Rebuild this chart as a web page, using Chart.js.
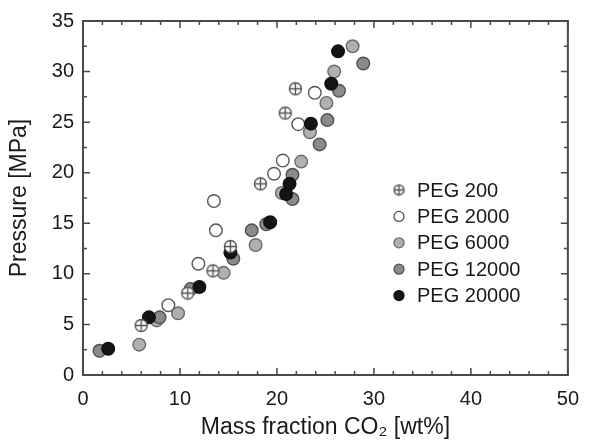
<!DOCTYPE html>
<html>
<head>
<meta charset="utf-8">
<script src="https://cdn.jsdelivr.net/npm/chart.js@4.4.1/dist/chart.umd.min.js"></script>
<style>
  html, body { margin: 0; padding: 0; background: #fff; }
  #wrap { width: 591px; height: 441px; }
</style>
</head>
<body>
<div id="wrap"><canvas id="chart"></canvas></div>
<script>
// values
var seriesNames = ['PEG 200', 'PEG 2000', 'PEG 6000', 'PEG 12000', 'PEG 20000'];

var peg200X = [6.0, 10.8, 13.4, 15.2, 18.3, 20.85, 21.9];
var peg200Y = [4.9, 8.1, 10.3, 12.7, 18.9, 25.9, 28.3];

var peg2000X = [8.8, 11.9, 13.7, 13.5, 19.7, 20.6, 22.2, 23.9];
var peg2000Y = [6.9, 11.0, 14.3, 17.2, 19.9, 21.2, 24.8, 27.9];

var peg6000X = [5.8, 7.6, 9.8, 14.5, 17.8, 20.5, 22.5, 23.4, 25.1, 25.9, 27.8];
var peg6000Y = [3.0, 5.4, 6.1, 10.1, 12.85, 18.0, 21.1, 24.0, 26.9, 30.0, 32.5];

var peg12000X = [1.7, 7.9, 11.1, 15.5, 17.4, 18.9, 21.6, 21.6, 24.4, 25.2, 26.4, 28.9];
var peg12000Y = [2.4, 5.7, 8.5, 11.5, 14.3, 14.9, 17.4, 19.8, 22.8, 25.2, 28.1, 30.8];

var peg20000X = [2.6, 6.8, 12.0, 15.2, 19.3, 20.95, 21.3, 23.5, 25.6, 26.3];
var peg20000Y = [2.6, 5.7, 8.7, 12.1, 15.1, 17.9, 18.9, 24.85, 28.8, 32.0];

var xTicks = [0, 10, 20, 30, 40, 50];
var yTicks = [0, 5, 10, 15, 20, 25, 30, 35];

function pairs(xs, ys) {
  return xs.map(function(x, i) { return { x: x, y: ys[i] }; });
}

// circle with a cross inside, for PEG 200
function crossCircle(r) {
  var s = Math.ceil(r * 2 + 3);
  var c = document.createElement('canvas');
  c.width = s; c.height = s;
  var g = c.getContext('2d');
  var m = s / 2;
  g.fillStyle = '#fff';
  g.strokeStyle = '#555';
  g.lineWidth = 1.4;
  g.beginPath(); g.arc(m, m, r, 0, Math.PI * 2); g.fill(); g.stroke();
  g.beginPath();
  g.moveTo(m - r, m); g.lineTo(m + r, m);
  g.moveTo(m, m - r); g.lineTo(m, m + r);
  g.stroke();
  return c;
}
var crossBig = crossCircle(6);
var crossSmall = crossCircle(5);

var fills = ['#fff', '#fff', '#b0b0b0', '#8a8a8a', '#141414'];
var borders = ['#555', '#555', '#6a6a6a', '#505050', '#111'];

var framePlugin = {
  id: 'frame',
  beforeDatasetsDraw: function(chart) {
    var ctx = chart.ctx, a = chart.chartArea;
    var xs = chart.scales.x, ys = chart.scales.y;
    ctx.save();
    ctx.strokeStyle = '#4a4a4a';
    ctx.lineWidth = 1.5;
    var v, p, len;
    for (v = 0; v <= 50; v += 2) {
      p = xs.getPixelForValue(v);
      len = v % 10 === 0 ? 7 : 4;
      ctx.beginPath();
      ctx.moveTo(p, a.bottom); ctx.lineTo(p, a.bottom - len);
      ctx.moveTo(p, a.top); ctx.lineTo(p, a.top + len);
      ctx.stroke();
    }
    for (v = 0; v <= 35; v += 2.5) {
      p = ys.getPixelForValue(v);
      len = v % 5 === 0 ? 7 : 4;
      ctx.beginPath();
      ctx.moveTo(a.left, p); ctx.lineTo(a.left + len, p);
      ctx.moveTo(a.right, p); ctx.lineTo(a.right - len, p);
      ctx.stroke();
    }
    ctx.lineWidth = 2;
    ctx.strokeRect(a.left, a.top, a.right - a.left, a.bottom - a.top);
    ctx.restore();
  }
};

var fontFam = '"Liberation Sans", Arial, sans-serif';

var legendPlugin = {
  id: 'boxLegend',
  afterDraw: function(chart) {
    var ctx = chart.ctx;
    ctx.save();
    ctx.font = '20px ' + fontFam;
    ctx.textBaseline = 'middle';
    chart.data.datasets.forEach(function(ds, i) {
      var y = 190 + i * 26.4;
      var x = 399;
      if (i === 0) {
        ctx.drawImage(crossSmall, x - crossSmall.width / 2, y - crossSmall.height / 2);
      } else {
        ctx.beginPath();
        ctx.arc(x, y, 5, 0, Math.PI * 2);
        ctx.fillStyle = ds.backgroundColor;
        ctx.fill();
        ctx.lineWidth = 1.3;
        ctx.strokeStyle = ds.borderColor;
        ctx.stroke();
      }
      ctx.fillStyle = '#1a1a1a';
      ctx.fillText(ds.label, 417, y + 1);
    });
    ctx.restore();
  }
};

var allX = [peg200X, peg2000X, peg6000X, peg12000X, peg20000X];
var allY = [peg200Y, peg2000Y, peg6000Y, peg12000Y, peg20000Y];
var drawOrder = [0, 2, 4, 3, 1];

var datasets = seriesNames.map(function(name, i) {
  return {
    label: name,
    data: pairs(allX[i], allY[i]),
    pointStyle: i === 0 ? crossBig : 'circle',
    pointRadius: 6.3,
    pointHoverRadius: 6.3,
    backgroundColor: fills[i],
    borderColor: borders[i],
    borderWidth: 1.4,
    order: drawOrder[i]
  };
});

new Chart(document.getElementById('chart').getContext('2d'), {
  type: 'scatter',
  data: { datasets: datasets },
  options: {
    responsive: true,
    maintainAspectRatio: false,
    animation: false,
    layout: { padding: { top: 19, right: 14, left: 0, bottom: 0 } },
    plugins: {
      legend: { display: false },
      tooltip: { enabled: false }
    },
    scales: {
      x: {
        type: 'linear',
        min: 0, max: 50,
        afterBuildTicks: function(s) { s.ticks = xTicks.map(function(v) { return { value: v }; }); },
        afterFit: function(s) { s.height = 66; },
        grid: { display: false, drawTicks: false },
        border: { display: false },
        ticks: { padding: 12, color: '#1a1a1a', font: { size: 20, family: fontFam } },
        title: {
          display: true,
          text: 'Mass fraction CO\u2082 [wt%]',
          color: '#1a1a1a',
          font: { size: 23, family: fontFam },
          padding: { top: 0, bottom: 0 }
        }
      },
      y: {
        type: 'linear',
        min: 0, max: 35,
        afterBuildTicks: function(s) { s.ticks = yTicks.map(function(v) { return { value: v }; }); },
        afterFit: function(s) { s.width = 83; },
        grid: { display: false, drawTicks: false },
        border: { display: false },
        ticks: { padding: 9, color: '#1a1a1a', font: { size: 20, family: fontFam } },
        title: {
          display: true,
          text: 'Pressure [MPa]',
          color: '#1a1a1a',
          font: { size: 23, family: fontFam },
          padding: { top: 6, bottom: 0 }
        }
      }
    }
  },
  plugins: [framePlugin, legendPlugin]
});
</script>
</body>
</html>
